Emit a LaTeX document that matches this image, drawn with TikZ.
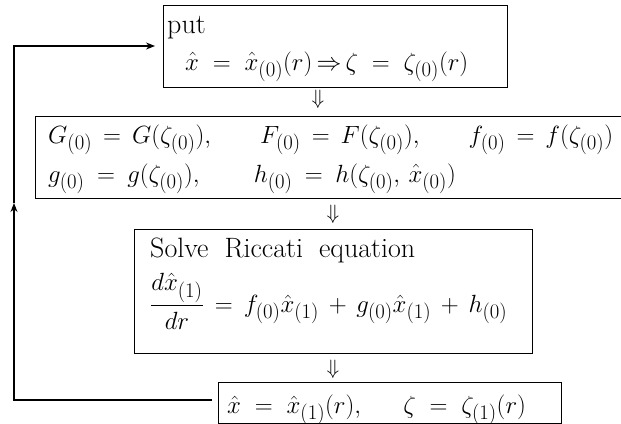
\documentclass[tikz,border=0pt]{standalone}
\usepackage{amsmath}
\usetikzlibrary{arrows.meta}
\begin{document}
\begin{tikzpicture}[x=1pt,y=-1pt,
  box/.style={draw,line width=1.2pt,inner sep=0pt,anchor=north west},
  txt/.style={inner sep=0pt,font=\fontsize{28}{32}\selectfont},
  dn/.style={inner sep=0pt,font=\fontsize{20}{22}\selectfont},
  fb/.style={line width=1.1pt},
  tip/.style={-{Stealth[length=9pt,width=7pt]}}]
\useasboundingbox (0,0) rectangle (621,423);
% boxes
\node[box,minimum width=344pt,minimum height=82pt] (b1) at (163,5) {};
\node[box,minimum width=620pt,minimum height=82pt] (b2) at (35,116) {};
\node[box,minimum width=398pt,minimum height=124pt] (b3) at (134,229) {};
\node[box,minimum width=343pt,minimum height=41pt] (b4) at (218,382) {};
% texts
\node[txt,anchor=base west] (t1a) at (167,33) {put};
\node[txt,anchor=base west] (t1b) at (185,70) {$\thickmuskip=10mu\hat x=\hat x_{(0)}(r)\,{\Rightarrow}\,\zeta=\zeta_{(0)}(r)$};
\node[txt,anchor=base west] (t2a) at (48,143) {$\thickmuskip=8mu G_{(0)}=G(\zeta_{(0)}),\hspace{45pt}F_{(0)}=F(\zeta_{(0)}),\hspace{45pt}f_{(0)}=f(\zeta_{(0)})$};
\node[txt,anchor=base west] (t2b) at (48,182) {$\thickmuskip=9mu g_{(0)}=g(\zeta_{(0)}),\hspace{50pt}h_{(0)}=h(\zeta_{(0)},\,\hat x_{(0)})$};
\node[txt,anchor=base west] (t3a) at (150,257) {Solve\hspace{16pt}Riccati\hspace{16pt}equation};
\node[txt,anchor=west] (t3b) at (150,301) {$\thickmuskip=8mu\medmuskip=7mu\dfrac{d\hat x_{(1)}}{dr}=f_{(0)}\hat x_{(1)}+g_{(0)}\hat x_{(1)}+h_{(0)}$};
\node[txt,anchor=base west,font=\fontsize{30}{34}\selectfont] (t4) at (227,413) {$\thickmuskip=10mu\hat x=\hat x_{(1)}(r),\hspace{38pt}\zeta=\zeta_{(1)}(r)$};
% down arrows
\node[dn] (d1) at (318,99) {$\Downarrow$};
\node[dn] (d2) at (333,214) {$\Downarrow$};
\node[dn] (d3) at (333,369) {$\Downarrow$};
% feedback loop
\coordinate (c1) at (14,400);
\coordinate (c2) at (14,203);
\coordinate (c3) at (14,46);
\draw[fb,tip] ([xshift=-6pt]b4.west |- c1) -- (c1) -- (c2);
\draw[fb,tip] (c2) -- (c3) -- ([xshift=-8pt]b1.west |- c3);
\end{tikzpicture}
\end{document}
